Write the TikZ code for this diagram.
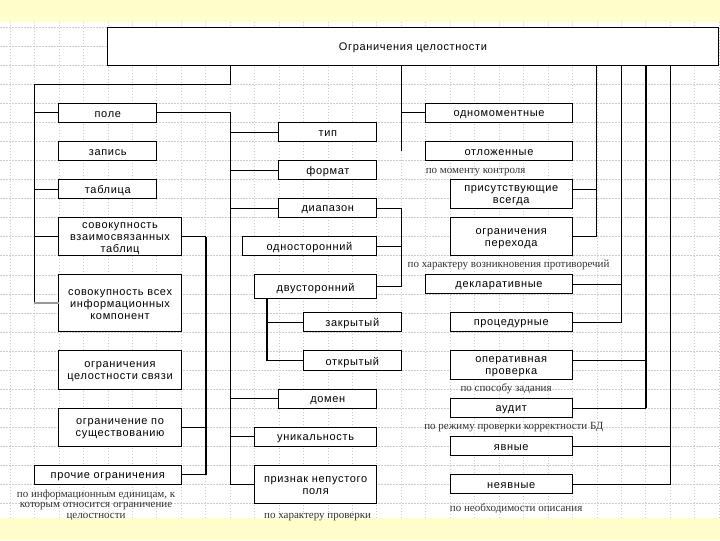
\documentclass[tikz,border=0pt]{standalone}
\usepackage{fontspec}
\setmainfont{Liberation Sans}
\newfontfamily\boxfont[LetterSpace=6]{Liberation Sans}
\newfontfamily\labfont{Liberation Serif}
\usetikzlibrary{calc}
\definecolor{bandyellow}{HTML}{FFFFCC}
\definecolor{gridgray}{HTML}{CCCCCC}
\definecolor{labgray}{HTML}{333333}
\tikzset{
  box/.style={draw=black, fill=white, line width=1pt, inner sep=0pt, outer sep=0pt},
  boxtext/.style={inner sep=0pt, align=center, font=\boxfont\fontsize{11}{12}\selectfont},
  conn/.style={line width=1pt, draw=black},
  thickconn/.style={line width=2pt, draw=black},
  graybranch/.style={line width=2pt, draw=gray!80},
  note/.style={font=\labfont\fontsize{11}{10.5}\selectfont, text=labgray, inner sep=0pt, align=center},
  gridline/.style={draw=gridgray, line width=0.6pt, dash pattern=on 1.5pt off 1.5pt}
}
\newcommand\gbox[6]{\node[box, minimum width={(#4-#2)*24.45pt}, minimum height={(#5-#3)*19.04pt}]
  (#1) at ({(#2+#4)/2},{(#3+#5)/2}) {};
  \node[boxtext] (#1-t) at ([yshift=-1.6pt]#1.center) {#6};}
\begin{document}
\begin{tikzpicture}[x=24.45pt, y=-19.04pt]
\useasboundingbox (-0.409,-1.434) rectangle (29.039,26.928);
\fill[white] (-0.409,-1.434) rectangle (29.039,26.928);
\fill[bandyellow] (-0.409,-1.434) rectangle (29.039,-0.28);
\fill[bandyellow] (-0.409,25.77) rectangle (29.039,26.928);
\foreach \i in {0,...,29} \draw[gridline] (\i,-0.28) -- (\i,25.77);
\foreach \j in {0,...,25} \draw[gridline] (-0.409,\j) -- (29.039,\j);

% boxes
\gbox{title}{4}{0}{28.96}{2}{Ограничения целостности}
\gbox{pole}{2}{4}{6}{5}{поле}
\gbox{zapis}{2}{6}{6}{7}{запись}
\gbox{tablica}{2}{8}{6}{9}{таблица}
\gbox{sovvz}{2}{10}{7}{12}{совокупность\\взаимосвязанных\\таблиц}
\gbox{sovvse}{2}{13}{7}{16}{совокупность всех\\информационных\\компонент}
\gbox{svyazi}{2}{17}{7}{19}{ограничения\\целостности связи}
\gbox{sush}{2}{20}{7}{22}{ограничение по\\существованию}
\gbox{prochie}{1}{23}{7}{24}{прочие ограничения}
\gbox{tip}{11}{5}{15}{6}{тип}
\gbox{format}{11}{7}{15}{8}{формат}
\gbox{diapazon}{11}{9}{15}{10}{диапазон}
\gbox{odnostor}{9.5}{11}{15}{12}{односторонний}
\gbox{dvustor}{10}{13}{15}{14.25}{двусторонний}
\gbox{zakr}{12}{15}{16}{16}{закрытый}
\gbox{otkr}{12}{17}{16}{18}{открытый}
\gbox{domen}{11}{19}{15}{20}{домен}
\gbox{unik}{10}{21}{15}{22}{уникальность}
\gbox{priznak}{10}{23}{15}{25}{признак непустого\\поля}
\gbox{odnomom}{17}{4}{23}{5}{одномоментные}
\gbox{otlozh}{17}{6}{23}{7}{отложенные}
\gbox{prisut}{18}{8}{23}{9.5}{присутствующие\\всегда}
\gbox{perehod}{18}{10}{23}{12}{ограничения\\перехода}
\gbox{deklar}{17}{13}{23}{14}{декларативные}
\gbox{proced}{18}{15}{23}{16}{процедурные}
\gbox{operat}{18}{17}{23}{18.5}{оперативная\\проверка}
\gbox{audit}{18}{19.5}{23}{20.5}{аудит}
\gbox{yavn}{18}{21.5}{23}{22.5}{явные}
\gbox{neyavn}{18}{23.5}{23}{24.5}{неявные}

% column coordinates
\coordinate (kA) at (9,3);
\coordinate (L1) at (1,3);
\coordinate (kB) at (16,0);
\coordinate (kC) at (10.5,0);
\coordinate (kD) at (8,0);
\coordinate (kE) at (16,6.5);
\coordinate (kF) at (24,0);
\coordinate (kG) at (25,0);
\coordinate (kH) at (26,0);
\coordinate (kI) at (27,0);
\coordinate (prisutR) at ($(prisut.north east)!1/3!(prisut.south east)$);
\coordinate (operatR) at ($(operat.north east)!1/3!(operat.south east)$);

% left group
\draw[conn] (title.south -| kA) |- (L1) -- (L1 |- sovvse.west);
\draw[graybranch] (L1 |- sovvse.west) -- (sovvse.west);
\foreach \n in {pole,tablica,sovvz} \draw[conn] (\n.west) -- (\n.west -| L1);

% field group
\draw[conn] (pole.east) -| (kA |- priznak.west) -- (priznak.west);
\foreach \n in {tip,format,diapazon,domen,unik} \draw[conn] (\n.west) -- (\n.west -| kA);

% range group
\draw[conn] (diapazon.east) -| (kB |- dvustor.east) -- (dvustor.east);
\draw[conn] (odnostor.east) -- (odnostor.east -| kB);
\draw[thickconn] (dvustor.south -| kC) -- (kC |- otkr.west);
\draw[conn] (kC |- otkr.west) -- (otkr.west);
\draw[conn] (zakr.west) -- (zakr.west -| kC);

% linked tables group
\draw[conn] (sovvz.east) -- (sovvz.east -| kD);
\draw[thickconn] (sovvz.east -| kD) -- (kD |- prochie.east);
\draw[conn] (kD |- prochie.east) -- (prochie.east);
\draw[conn] (sush.east) -- (sush.east -| kD);

% right groups
\draw[conn] (title.south -| kB) -- (kE);
\draw[conn] (odnomom.west) -- (odnomom.west -| kB);
\draw[conn] (title.south -| kF) |- (perehod.east);
\draw[conn] (prisutR) -- (prisutR -| kF);
\draw[conn] (title.south -| kG) |- (proced.east);
\draw[conn] (deklar.east) -- (deklar.east -| kG);
\draw[thickconn] (title.south -| kH) -- (kH |- audit.east);
\draw[conn] (kH |- audit.east) -- (audit.east);
\draw[conn] (operatR) -- (operatR -| kH);
\draw[conn] (title.south -| kI) |- (neyavn.east);
\draw[conn] (yavn.east) -- (yavn.east -| kI);

% labels
\node[note, anchor=west] (n1) at (17,7.62) {по моменту контроля};
\node[note] (n2) at (20.39,12.46) {по характеру возникновения противоречий};
\node[note] (n3) at (20.29,18.98) {по способу задания};
\node[note] (n4) at (20.61,20.99) {по режиму проверки корректности БД};
\node[note] (n5) at (20.70,25.28) {по необходимости описания};
\node[note] (n6) at (12.58,25.7) {по характеру проверки};
\node[note] (n7) at (3.52,25.1) {по информационным единицам, к\\которым относится ограничение\\целостности};
\end{tikzpicture}
\end{document}
